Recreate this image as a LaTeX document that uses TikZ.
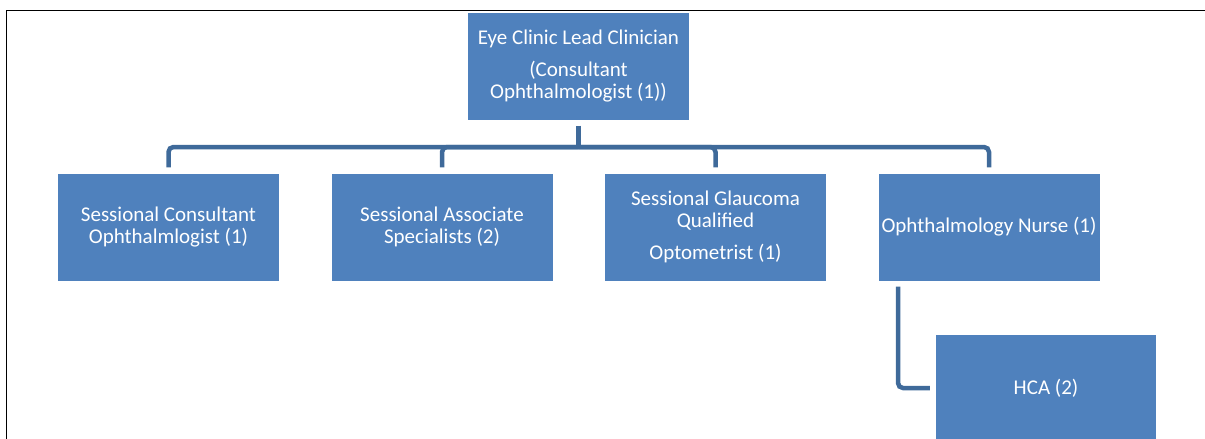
\documentclass[tikz,border=0pt]{standalone}
\usepackage{fontspec}
\setmainfont{Carlito}
\usetikzlibrary{positioning}
\definecolor{boxblue}{HTML}{4F81BD}
\definecolor{lineblue}{HTML}{3F6A9A}

\begin{document}
\begin{tikzpicture}[x=1pt,y=-1pt,
  post/.style={fill=boxblue,text=white,minimum width=221pt,minimum height=107pt,inner sep=1pt,align=center,font=\fontsize{21}{22.5}\selectfont},
  link/.style={draw=lineblue,line width=4.5pt,rounded corners=5pt,shorten <=6pt,shorten >=6pt}]
\useasboundingbox (0,0) rectangle (1205,439);
% page frame
\draw[line width=1.5pt] (6.5,439) -- (6.5,10.5) -- (1205,10.5);
% boxes
\node[post] (lead) at (578.5,66) {Eye Clinic Lead Clinician\\[9.5pt](Consultant\\Ophthalmologist (1))};
\node[post] (consult) at (168.5,227) {Sessional Consultant\\Ophthalmlogist (1)};
\node[post] (assoc) at (442,227) {Sessional Associate\\Specialists (2)};
\node[post] (glauc) at (715.5,227) {Sessional Glaucoma\\Qualified\\[9.5pt]Optometrist (1)};
\node[post] (nurse) at (989,227) {Ophthalmology Nurse (1)};
\node[post,minimum width=220pt] (hca) at (1046,388) {HCA (2)};
\coordinate (bus) at (578.5,147);
% connectors
\draw[link,shorten >=-2.25pt] (lead.south) -- (bus);
\foreach \n in {consult,assoc,glauc,nurse}
  \draw[link,shorten <=0pt] (bus) -| (\n.north);
\draw[link] ([xshift=-91pt]nurse.south) |- (hca.west);
\end{tikzpicture}
\end{document}
